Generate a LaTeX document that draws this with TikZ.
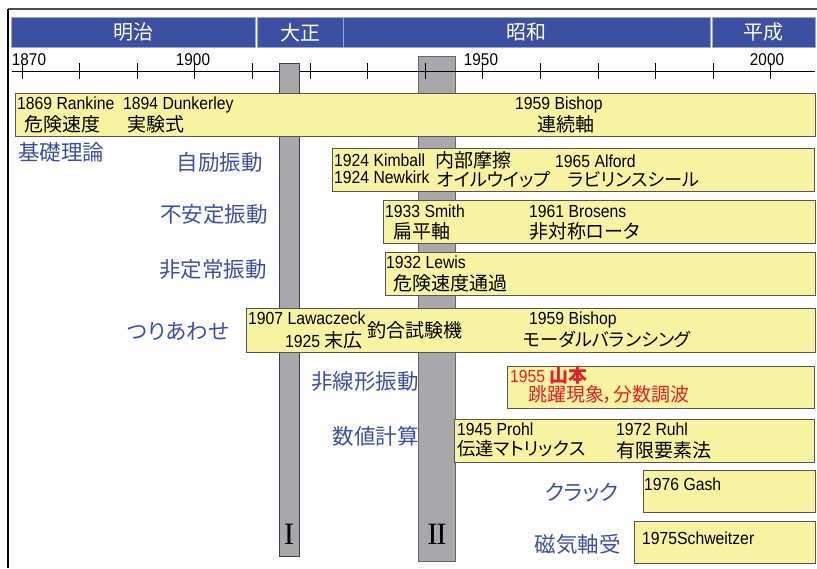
\documentclass[tikz,border=0pt]{standalone}
\usepackage{fontspec}
\setmainfont{Liberation Sans}[FakeStretch=0.9]
\newfontfamily\jpfont{Noto Sans CJK JP}[RawFeature=+palt]
\newfontfamily\romfont{Liberation Serif}
\definecolor{erablue}{RGB}{59,80,160}
\definecolor{eraedge}{RGB}{150,165,220}
\definecolor{catblue}{RGB}{58,80,165}
\definecolor{boxfill}{RGB}{247,243,160}
\definecolor{boxedge}{RGB}{85,85,85}
\definecolor{barfill}{RGB}{168,168,172}
\definecolor{redtxt}{RGB}{230,32,42}
\newcommand{\jt}[1]{{\jpfont\fontsize{19}{23}\selectfont #1}}
\tikzset{
  era/.style={fill=erablue, draw=eraedge, line width=0.8pt},
  eratext/.style={text=white, font=\jpfont\fontsize{20}{24}\selectfont, inner sep=0pt},
  yr/.style={inner sep=0pt, anchor=base, font=\fontsize{17}{20}\selectfont},
  tick/.style={line width=1pt},
  bar/.style={fill=barfill, draw=black!75, line width=1pt, inner sep=0pt, anchor=north west},
  rom/.style={inner sep=0pt, font=\romfont\fontsize{31}{36}\selectfont},
  ybox/.style={fill=boxfill, draw=boxedge, line width=1.2pt, inner sep=0pt, anchor=north west},
  lat/.style={inner sep=0pt, anchor=base west, font=\fontsize{17.5}{20}\selectfont},
  jp/.style={inner sep=0pt, anchor=base west, font=\jpfont\fontsize{19}{23}\selectfont},
  kana/.style={inner sep=0pt, anchor=base west, font=\jpfont\fontsize{18.2}{22}\selectfont},
  cat/.style={inner sep=0pt, anchor=base east, text=catblue, font=\jpfont\fontsize{21.5}{25}\selectfont},
}
\begin{document}
\begin{tikzpicture}[x=1pt,y=-1pt]
\useasboundingbox (0,0) rectangle (817,568);
% frame
\draw[black!70, line width=1.5pt] (8,9) -- (817,9);
\draw[black, line width=2pt] (8,9) -- (8,568);
% eras
\node[era, anchor=north west, minimum width=244pt, minimum height=30pt, inner sep=0pt] (meiji) at (11,17) {};
\node[era, anchor=north west, minimum width=86pt, minimum height=30pt, inner sep=0pt] (taisho) at (257,17) {};
\node[era, anchor=north west, minimum width=367pt, minimum height=30pt, inner sep=0pt] (showa) at (343,17) {};
\node[era, anchor=north west, minimum width=103pt, minimum height=30pt, inner sep=0pt] (heisei) at (712,17) {};
\node[eratext] at (meiji.center) {明治};
\node[eratext] at (taisho.center) {大正};
\node[eratext] at (showa.center) {昭和};
\node[eratext] at (heisei.center) {平成};
% bar II (behind axis)
\node[bar, minimum width=37pt, minimum height=505pt, draw=black!60] (barII) at (418,56) {};
% axis
\coordinate (axL) at (12,71);
\coordinate (axR) at (815,71);
\draw[line width=1pt] (axL) -- (axR);
\foreach \k in {0,...,13}{
  \draw[tick] ({22+57.6*\k},63) -- ({22+57.6*\k},79);
}
\node[yr] (y1870) at (29,65) {1870};
\node[yr] (y1900) at (193,65) {1900};
\node[yr] (y1950) at (481,65) {1950};
\node[yr] (y2000) at (767,65) {2000};
% bar I
\node[bar, minimum width=20pt, minimum height=493pt] (barI) at (279,63) {};
% boxes
\node[ybox, minimum width=800pt, minimum height=43pt] (b1) at (15,93) {};
\node[ybox, minimum width=482pt, minimum height=43pt] (b2) at (332,148) {};
\node[ybox, minimum width=432pt, minimum height=43pt] (b3) at (383,200) {};
\node[ybox, minimum width=430pt, minimum height=43pt] (b4) at (385,252) {};
\node[ybox, minimum width=569pt, minimum height=44pt] (b5) at (246,308) {};
\node[ybox, minimum width=307pt, minimum height=42pt] (b6) at (507,366) {};
\node[ybox, minimum width=360pt, minimum height=43pt] (b7) at (454,419) {};
\node[ybox, minimum width=172pt, minimum height=42pt] (b8) at (643,470) {};
\node[ybox, minimum width=181pt, minimum height=42pt] (b9) at (634,521) {};
% roman numerals
\node[rom] (rI) at (289,534) {I};
\node[rom] (rII) at (437,534) {I\kern-1.5pt I};
% box 1
\node[lat] (t11) at (17,109) {1869 Rankine};
\node[lat] (t12) at (123,109) {1894 Dunkerley};
\node[lat] (t13) at (515,109) {1959 Bishop};
\node[jp] (t14) at (24,131) {危険速度};
\node[jp] (t15) at (127,131) {実験式};
\node[jp] (t16) at (537,131) {連続軸};
% box 2
\node[lat] (t21) at (334,166.5) {1924 Kimball};
\node[lat] (t22) at (334,183) {1924 Newkirk};
\node[jp] (t23) at (435,167) {内部摩擦};
\node[kana] (t24) at (437,186) {オイルウイップ};
\node[lat] (t25) at (555,167) {1965 Alford};
\node[kana] (t26) at (568,186) {ラビリンスシール};
% box 3
\node[lat] (t31) at (385,217) {1933 Smith};
\node[jp] (t32) at (393,238) {扁平軸};
\node[lat] (t33) at (529,217) {1961 Brosens};
\node[jp] (t34) at (529,238) {非対称ロータ};
% box 4
\node[lat] (t41) at (386,268) {1932 Lewis};
\node[jp] (t42) at (393,290) {危険速度通過};
% box 5
\node[lat] (t51) at (248,324) {1907 Lawaczeck};
\node[lat] (t52) at (285,347) {1925 \jt{末広}};
\node[jp] (t53) at (367,337) {釣合試験機};
\node[lat] (t54) at (529,324) {1959 Bishop};
\node[kana] (t55) at (523,346) {モーダルバランシング};
% box 6
\node[lat, text=redtxt] (t61) at (510,382) {1955 {\jpfont\bfseries\fontsize{19}{23}\selectfont 山本}};
\node[jp, text=redtxt] (t62) at (528,401) {跳躍現象，分数調波};
% box 7
\node[lat] (t71) at (457,435) {1945 Prohl};
\node[kana] (t72) at (457,455) {伝達マトリックス};
\node[lat] (t73) at (616,435) {1972 Ruhl};
\node[jp] (t74) at (616,457) {有限要素法};
% box 8, 9
\node[lat] (t81) at (644,490) {1976 Gash};
\node[lat] (t91) at (642,544) {1975Schweitzer};
% category labels
\node[cat, anchor=base west] (c1) at (18,160.5) {基礎理論};
\node[cat] (c2) at (263,170.5) {自励振動};
\node[cat] (c3) at (268,222.5) {不安定振動};
\node[cat] (c4) at (267,277.5) {非定常振動};
\node[cat] (c5) at (229,339.5) {つりあわせ};
\node[cat] (c6) at (419,389.5) {非線形振動};
\node[cat] (c7) at (419,444.5) {数値計算};
\node[cat] (c8) at (619,500.5) {クラック};
\node[cat] (c9) at (621,552.5) {磁気軸受};
\end{tikzpicture}
\end{document}
